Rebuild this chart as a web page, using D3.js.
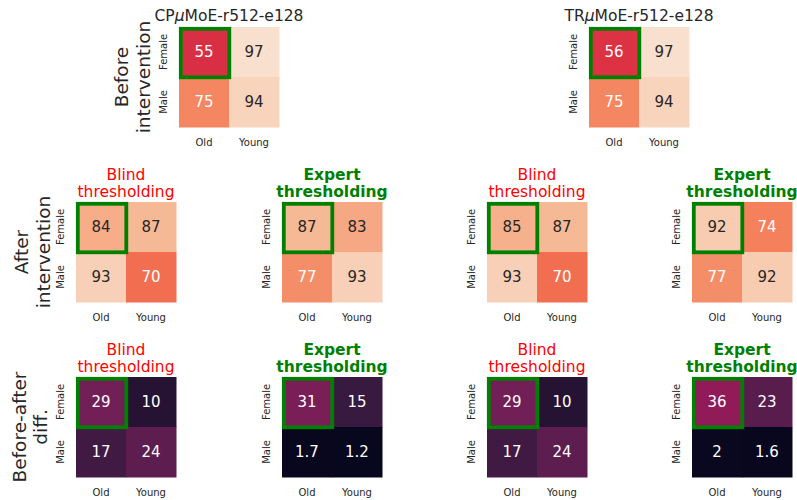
<!DOCTYPE html>
<html>
<head>
<meta charset="utf-8">
<script src="https://cdn.jsdelivr.net/npm/d3@7"></script>
<style>
    body { margin: 0; background: #fff; }
    svg { font-family: "DejaVu Sans", sans-serif; }
</style>
</head>
<body>
<svg id="chart" width="797" height="500"></svg>
<script>
var rowCats = ["Female", "Male"];
var colCats = ["Old", "Young"];

// values per heatmap, rows = Female/Male, cols = Old/Young
var beforeCP = [[55, 97], [75, 94]];
var beforeTR = [[56, 97], [75, 94]];
var afterCPBlind = [[84, 87], [93, 70]];
var afterCPExpert = [[87, 83], [77, 93]];
var afterTRBlind = [[85, 87], [93, 70]];
var afterTRExpert = [[92, 74], [77, 92]];
var diffCPBlind = [[29, 10], [17, 24]];
var diffCPExpert = [[31, 15], [1.7, 1.2]];
var diffTRBlind = [[29, 10], [17, 24]];
var diffTRExpert = [[36, 23], [2, 1.6]];

// model titles split as [prefix, italic mu, suffix]
var modelTitles = [["CP", "\u03bc", "MoE-r512-e128"], ["TR", "\u03bc", "MoE-r512-e128"]];
var rowLabels = [["Before", "intervention"], ["After", "intervention"], ["Before-after", "diff."]];

// rocket colormap anchors
var rocketStops = ["#03051a", "#35193e", "#701f57", "#ad1759", "#e13342", "#f37651", "#f6b48f", "#faebdd"];
var color = d3.scaleLinear()
    .domain(d3.range(rocketStops.length).map(function(i) { return 100 * i / (rocketStops.length - 1); }))
    .range(rocketStops)
    .interpolate(d3.interpolateRgb)
    .clamp(true);

var svg = d3.select("#chart");
var size = 100;
var fmt = d3.format(".2~g");
var dark = "#262626";

function luminance(c) {
    var rgb = d3.rgb(c);
    var lin = [rgb.r, rgb.g, rgb.b].map(function(v) {
        v = v / 255;
        return v <= 0.03928 ? v / 12.92 : Math.pow((v + 0.055) / 1.055, 2.4);
    });
    return 0.2126 * lin[0] + 0.7152 * lin[1] + 0.0722 * lin[2];
}

function drawHeatmap(values, left, top, title) {
    var g = svg.append("g").attr("transform", "translate(" + left + "," + top + ")");

    var x = d3.scaleBand().domain(colCats).range([0, size]);
    var y = d3.scaleBand().domain(rowCats).range([0, size]);

    var cells = [];
    rowCats.forEach(function(r, i) {
        colCats.forEach(function(c, j) {
            cells.push({row: r, col: c, value: values[i][j]});
        });
    });

    g.selectAll("rect.cell")
        .data(cells)
        .enter()
        .append("rect")
        .attr("class", "cell")
        .attr("x", function(d) { return x(d.col); })
        .attr("y", function(d) { return y(d.row); })
        .attr("width", x.bandwidth() + 0.5)
        .attr("height", y.bandwidth() + 0.5)
        .attr("fill", function(d) { return color(d.value); });

    g.selectAll("text.val")
        .data(cells)
        .enter()
        .append("text")
        .attr("class", "val")
        .attr("x", function(d) { return x(d.col) + x.bandwidth() / 2; })
        .attr("y", function(d) { return y(d.row) + y.bandwidth() / 2; })
        .attr("dy", "0.36em")
        .attr("text-anchor", "middle")
        .attr("font-size", "15px")
        .attr("fill", function(d) { return luminance(color(d.value)) > 0.408 ? dark : "#ffffff"; })
        .text(function(d) { return fmt(d.value); });

    // highlight Female / Old
    g.append("rect")
        .attr("x", x("Old") + 1.8)
        .attr("y", y("Female") + 1.8)
        .attr("width", x.bandwidth() - 1.5)
        .attr("height", y.bandwidth() - 1.5)
        .attr("fill", "none")
        .attr("stroke", "green")
        .attr("stroke-width", 3.8);

    var xAxis = d3.axisBottom(x).tickSize(0).tickPadding(11.5);
    var gx = g.append("g")
        .attr("transform", "translate(0," + size + ")")
        .call(xAxis);
    gx.select(".domain").remove();
    gx.selectAll("text").attr("font-size", "10px").attr("fill", dark).attr("font-family", "DejaVu Sans");

    var yAxis = d3.axisLeft(y).tickSize(0);
    var gy = g.append("g").call(yAxis);
    gy.select(".domain").remove();
    gy.selectAll("text")
        .attr("transform", "rotate(-90)")
        .attr("x", 0)
        .attr("y", -12.5)
        .attr("dy", 0)
        .attr("text-anchor", "middle")
        .attr("font-size", "10px")
        .attr("fill", dark)
        .attr("font-family", "DejaVu Sans");

    if (title) {
        var t = g.append("text")
            .attr("x", size / 2)
            .attr("text-anchor", "middle")
            .attr("font-size", "15.5px")
            .attr("fill", title.color)
            .attr("font-weight", title.bold ? "bold" : "normal");
        if (title.model) {
            t.attr("y", -6);
            t.append("tspan").text(title.model[0]);
            t.append("tspan").attr("font-style", "italic").text(title.model[1]);
            t.append("tspan").text(title.model[2]);
        } else {
            t.append("tspan").attr("x", size / 2).attr("y", -22.5).text(title.lines[0]);
            t.append("tspan").attr("x", size / 2).attr("y", -5.5).text(title.lines[1]);
        }
    }
}

function drawRowLabel(lines, cx, cy) {
    var t = svg.append("text")
        .attr("transform", "translate(" + cx + "," + cy + ") rotate(-90)")
        .attr("text-anchor", "middle")
        .attr("font-size", "18.5px")
        .attr("fill", dark);
    t.append("tspan").attr("x", 0).attr("y", 0).text(lines[0]);
    t.append("tspan").attr("x", 0).attr("dy", 21.5).text(lines[1]);
}

var blind = {lines: ["Blind", "thresholding"], color: "red", bold: false};
var expert = {lines: ["Expert", "thresholding"], color: "green", bold: true};

// row 1
drawHeatmap(beforeCP, 179, 27, {model: modelTitles[0], color: dark, bold: false});
drawHeatmap(beforeTR, 589, 27, {model: modelTitles[1], color: dark, bold: false});

// row 2
drawHeatmap(afterCPBlind, 76, 202, blind);
drawHeatmap(afterCPExpert, 282, 202, expert);
drawHeatmap(afterTRBlind, 487, 202, blind);
drawHeatmap(afterTRExpert, 692, 202, expert);

// row 3
drawHeatmap(diffCPBlind, 76, 377, blind);
drawHeatmap(diffCPExpert, 282, 377, expert);
drawHeatmap(diffTRBlind, 487, 377, blind);
drawHeatmap(diffTRExpert, 692, 377, expert);

drawRowLabel(rowLabels[0], 128, 77);
drawRowLabel(rowLabels[1], 28, 252);
drawRowLabel(rowLabels[2], 25.5, 427);
</script>
</body>
</html>
